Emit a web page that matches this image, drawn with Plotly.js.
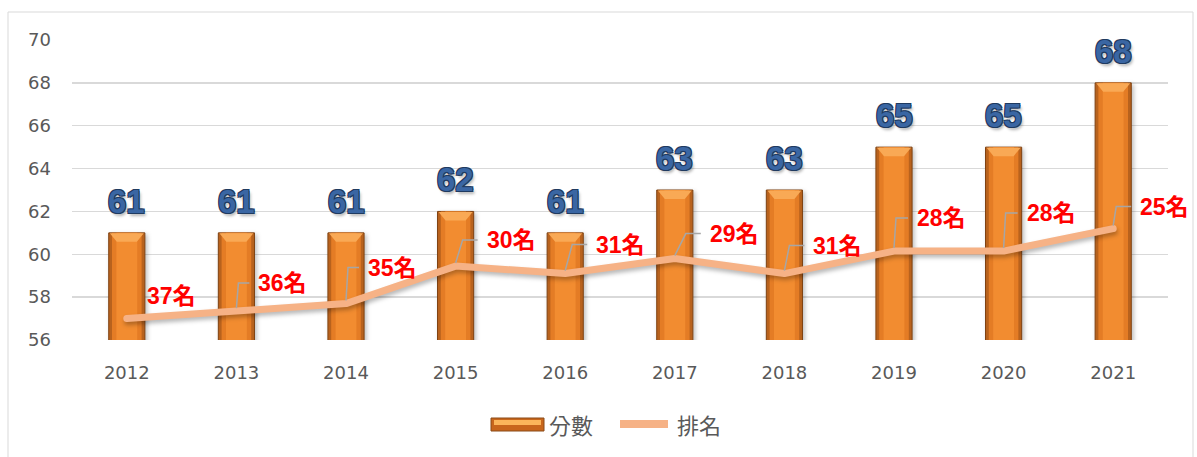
<!DOCTYPE html>
<html><head><meta charset="utf-8">
<script src="https://cdn.plot.ly/plotly-3.0.1.min.js"></script>
<style>
html,body{margin:0;padding:0;background:#fff}
#chart{width:1197px;height:457px}
.scatterlayer .js-line{stroke-linecap:round!important;stroke-linejoin:round!important;filter:drop-shadow(1px 3px 2px rgba(0,0,0,0.28));}
.barlayer .trace:first-child .point path{filter:drop-shadow(2px 2px 2px rgba(0,0,0,0.25));}
</style></head><body><div id="chart"></div>
<script>
// ---- data ----
const years = [2012, 2013, 2014, 2015, 2016, 2017, 2018, 2019, 2020, 2021];
const scores = [61, 61, 61, 62, 61, 63, 63, 65, 65, 68];
const ranks = [37, 36, 35, 30, 31, 29, 31, 28, 28, 25];
const rankSuffix = '名';
const scoreName = '分數';
const rankName = '排名';

// ---- label placement (pixels, layout only) ----
const rankDx = [20, 22, 22, 31, 31, 35, 29, 23, 23, 27];
const rankDy = [23, 28, 36, 26, 29, 25, 28, 33, 38, 22];
const rankLeader = [false, true, true, true, true, true, true, true, true, true];

// plot area in pixels
const L = 72, R = 1168, T = 40, B = 340;
const px = v => (v - L) / (R - L);
const py = v => (B - v) / (B - T);

const traces = [
  {type:'bar', x:years, y:scores, name:scoreName, width:0.33, marker:{color:'#B8621D', line:{color:'#7F4212', width:1}}, hoverinfo:'y', showlegend:false},
  {type:'bar', x:years, y:scores, name:scoreName, width:0.27, marker:{color:'#E47C25'}, hoverinfo:'skip', showlegend:false},
  {type:'bar', x:years, y:scores, name:scoreName, width:0.19, marker:{color:'#F28C30'}, hoverinfo:'skip', showlegend:false},
  {type:'scatter', mode:'lines', x:years, y:ranks, yaxis:'y2', name:rankName, line:{color:'#F6B286', width:7}, showlegend:false}
];

const shapes = [];
const annotations = [];

// frame
shapes.push({type:'rect', xref:'paper', yref:'paper', x0:px(8), x1:px(1193), y0:py(600), y1:py(12), line:{color:'#D9D9D9', width:1}, fillcolor:'rgba(0,0,0,0)', layer:'below'});

// bar bevel tops
years.forEach((yr, i) => {
  shapes.push({type:'path', xref:'x', yref:'y', xsizemode:'pixel', ysizemode:'pixel', xanchor:yr, yanchor:scores[i],
    path:'M -17 -0.5 L 17 -0.5 L 10 -9 L -10 -9 Z', fillcolor:'#F9A955', line:{width:0}, layer:'above'});
});

// score labels
years.forEach((yr, i) => {
  annotations.push({x:yr, y:scores[i], xref:'x', yref:'y', text:String(scores[i]), showarrow:false,
    yanchor:'bottom', yshift:11,
    font:{family:'Liberation Sans, Arial, sans-serif', size:33, weight:700, color:'#3A66A3',
      shadow:'-1px -1px 0 #1F3A60, 1px -1px 0 #1F3A60, -1px 1px 0 #1F3A60, 1px 1px 0 #1F3A60, 0 0 3px #ffffff, 2px 3px 3px rgba(0,0,0,0.3)'}});
});

// rank labels + leaders
years.forEach((yr, i) => {
  const dx = rankDx[i], dy = rankDy[i];
  if (rankLeader[i]) {
    const lx = Math.max(0, dx - 26) + 2;
    shapes.push({type:'path', xref:'x', yref:'y2', xsizemode:'pixel', ysizemode:'pixel', xanchor:yr, yanchor:ranks[i],
      path:`M 0 3 L ${lx} ${dy} L ${dx - 9} ${dy}`, line:{color:'#A6A6A6', width:1.5}, fillcolor:'rgba(0,0,0,0)', layer:'above'});
  }
  annotations.push({x:yr, y:ranks[i], xref:'x', yref:'y2', text:ranks[i] + rankSuffix, showarrow:false,
    xanchor:'left', yanchor:'middle', xshift:dx - 2, yshift:dy,
    font:{family:'Liberation Sans, Noto Sans CJK TC, sans-serif', size:23, weight:700, color:'#FF0000'}});
});

// custom legend
shapes.push({type:'rect', xref:'paper', yref:'paper', x0:px(491), x1:px(544), y0:py(431), y1:py(418), fillcolor:'#C8661C', line:{color:'#8A4A18', width:1}});
shapes.push({type:'rect', xref:'paper', yref:'paper', x0:px(494), x1:px(541), y0:py(425), y1:py(420), fillcolor:'#FBB55A', line:{width:0}});
shapes.push({type:'line', xref:'paper', yref:'paper', x0:px(620), x1:px(668), y0:py(424), y1:py(424), line:{color:'#F6B286', width:8}});
annotations.push({xref:'paper', yref:'paper', x:px(547), y:py(424), text:scoreName, showarrow:false, xanchor:'left', yanchor:'middle',
  font:{family:'Noto Sans CJK TC, sans-serif', size:22, color:'#595959'}});
annotations.push({xref:'paper', yref:'paper', x:px(675), y:py(424), text:rankName, showarrow:false, xanchor:'left', yanchor:'middle',
  font:{family:'Noto Sans CJK TC, sans-serif', size:22, color:'#595959'}});

const layout = {
  width:1197, height:457,
  margin:{l:L, r:1197 - R, t:T, b:457 - B, pad:0},
  paper_bgcolor:'#ffffff', plot_bgcolor:'#ffffff',
  barmode:'overlay',
  showlegend:false,
  font:{family:'DejaVu Sans, sans-serif', color:'#595959'},
  xaxis:{range:[2011.5, 2021.5], tickvals:years, ticktext:years.map(String), showgrid:false, zeroline:false, showline:false,
    ticks:'', ticklabelstandoff:20, tickfont:{size:18, color:'#595959'}, fixedrange:true},
  yaxis:{range:[56, 70], dtick:2, showgrid:true, gridcolor:'#D9D9D9', gridwidth:1.5, zeroline:false, showline:false,
    ticks:'', ticklabelstandoff:20, tickfont:{size:18, color:'#595959'}, fixedrange:true},
  yaxis2:{overlaying:'y', range:[39.857, -0.143], visible:false, fixedrange:true},
  shapes:shapes,
  annotations:annotations
};

Plotly.newPlot('chart', traces, layout, {displayModeBar:false, staticPlot:true});
</script></body></html>
